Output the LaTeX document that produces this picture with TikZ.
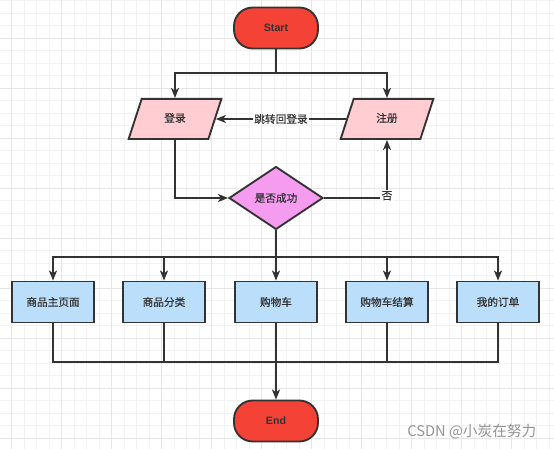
\documentclass[tikz,border=0pt]{standalone}
\usepackage{fontspec}
\setmainfont{Liberation Sans}
\newfontfamily\cjk{Noto Sans CJK SC}
\newfontfamily\cjkbox[FakeBold=0.6]{Noto Sans CJK SC}
\usetikzlibrary{arrows.meta,positioning,shapes.geometric}

\definecolor{linegray}{HTML}{333333}
\definecolor{termred}{HTML}{F44336}
\definecolor{iopink}{HTML}{FFCDD2}
\definecolor{decviolet}{HTML}{F59CF0}
\definecolor{procblue}{HTML}{BBDEFB}
\definecolor{gridminor}{HTML}{F2F2F2}
\definecolor{gridmajor}{HTML}{E6E6E6}

\tikzset{
  boxfont/.style={text=linegray, font=\cjkbox\fontsize{8pt}{10pt}\selectfont},
  terminal/.style={draw=linegray, line width=1.4pt, fill=termred, rounded corners=14pt,
    minimum width=63pt, minimum height=30.75pt, text=linegray, font=\bfseries\fontsize{8pt}{10pt}\selectfont},
  inout/.style={trapezium, trapezium left angle=72, trapezium right angle=108,
    draw=linegray, line width=1.4pt, fill=iopink, text height=6pt, text depth=1.5pt,
    inner xsep=17pt, inner ysep=11.3pt, boxfont},
  decision/.style={diamond, draw=linegray, line width=1.4pt, fill=decviolet,
    minimum width=70.5pt, minimum height=47.25pt, inner sep=0pt, boxfont},
  process/.style={rectangle, draw=linegray, line width=1.4pt, fill=procblue,
    minimum width=61.5pt, minimum height=30.75pt, boxfont},
  link/.style={draw=linegray, line width=1.4pt},
  flow/.style={link, -{Stealth[length=7.5pt, width=6pt, inset=2pt]}},
  edgelabel/.style={fill=white, inner sep=1pt, boxfont}
}

\begin{document}
\begin{tikzpicture}[x=0.75pt, y=0.75pt]
    \useasboundingbox (0,0) rectangle (554,-449);

    % Grid
    \begin{scope}
      \clip (0,0) rectangle (554,-449);
      \fill[white] (0,0) rectangle (554,-449);
      \foreach \gx in {-0.8,11.7,...,560} \draw[gridminor, line width=0.75pt] (\gx,0) -- (\gx,-449);
      \foreach \gy in {0.8,13.3,...,455} \draw[gridminor, line width=0.75pt] (0,-\gy) -- (554,-\gy);
      \foreach \gx in {11.7,61.7,...,560} \draw[gridmajor, line width=1pt] (\gx,0) -- (\gx,-449);
      \foreach \gy in {38.3,88.3,...,455} \draw[gridmajor, line width=1pt] (0,-\gy) -- (554,-\gy);
    \end{scope}

    % Start, login and register
    \node[terminal] (start) at (276,-28) {Start};
    \node[inout] (login) at (175,-119) {登录};
    \node[inout] (reg) at (387,-119) {注册};
    \node[decision] (check) at (276,-198) {是否成功};

    % Shop pages
    \node[process] (home) at (53,-302) {商品主页面};
    \node[process] (cat) at (164,-302) {商品分类};
    \node[process] (cart) at (276,-302) {购物车};
    \node[process] (pay) at (387,-302) {购物车结算};
    \node[process] (order) at (498,-302) {我的订单};
    \node[terminal] (end) at (276,-421) {End};

    % Connectors
    \coordinate (split) at (276,-73);
    \coordinate (fork) at (276,-257);
    \coordinate (join) at (276,-362);
    \draw[link] (start.south) -- (split);
    \draw[flow] (split) -| (login.north);
    \draw[flow] (split) -| (reg.north);
    \draw[flow] (reg.left side) -- node[edgelabel] {跳转回登录} (login.right side);
    \draw[flow] (login.south) |- (check.west);
    \draw[flow] (check.east) -| node[edgelabel, pos=0.52] {否} (reg.south);
    \draw[link] (check.south) -- (fork);
    \foreach \n in {home,cat,cart,pay,order}
      \draw[flow] (fork) -| (\n.north);
    \foreach \n in {home,cat,pay,order}
      \draw[link] (\n.south) |- (join);
    \draw[flow] (cart.south) -- (end.north);

    % Watermark
    \node[anchor=east, text=black!42, font=\cjk\fontsize{11pt}{13pt}\selectfont] (mark) at (541,-432) {CSDN @小炭在努力};
\end{tikzpicture}
\end{document}
